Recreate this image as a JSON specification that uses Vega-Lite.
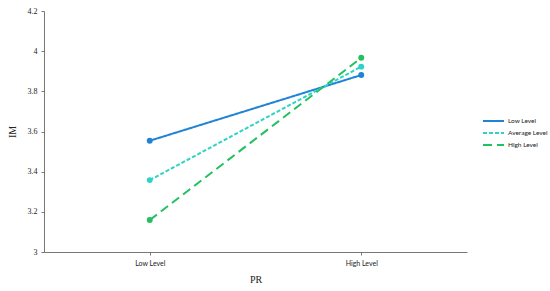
{
  "$schema": "https://vega.github.io/schema/vega-lite/v6.json",
  "width": 423,
  "height": 241,
  "autosize": "none",
  "padding": {"left": 44, "top": 11, "right": 83, "bottom": 39},
  "background": "white",
  "config": {"view": {"stroke": null}},
  "data": {"values": [
    {"PR": "Low Level", "level": "Low Level", "IM": 3.554},
    {"PR": "High Level", "level": "Low Level", "IM": 3.881},
    {"PR": "Low Level", "level": "Average Level", "IM": 3.358},
    {"PR": "High Level", "level": "Average Level", "IM": 3.923},
    {"PR": "Low Level", "level": "High Level", "IM": 3.159},
    {"PR": "High Level", "level": "High Level", "IM": 3.967}
  ]},
  "encoding": {
    "x": {"field": "PR", "type": "nominal", "sort": ["Low Level", "High Level"],
      "scale": {"type": "point", "padding": 0.5},
      "axis": {"title": "PR", "labelAngle": 0, "labelFont": "Lato", "labelFontSize": 7, "labelColor": "#222",
        "titleFont": "Liberation Serif", "titleFontSize": 10, "titleFontWeight": "normal", "titleColor": "#222", "titlePadding": 8,
        "domainColor": "#777", "tickColor": "#777", "tickSize": 3, "labelPadding": 4, "grid": false}},
    "y": {"field": "IM", "type": "quantitative", "scale": {"domain": [3, 4.2]},
      "axis": {"title": "IM", "values": [3, 3.2, 3.4, 3.6, 3.8, 4, 4.2], "format": "~g", "labelFont": "Liberation Serif", "labelFontSize": 8, "labelColor": "#222",
        "titleFont": "Liberation Serif", "titleFontSize": 10, "titleFontWeight": "normal", "titleColor": "#222", "titlePadding": 10,
        "domainColor": "#777", "tickColor": "#777", "tickSize": 3, "labelPadding": 4, "grid": false}},
    "color": {"field": "level", "type": "nominal",
      "scale": {"domain": ["Low Level", "Average Level", "High Level"], "range": ["#1f83d6", "#2fd3c6", "#22c060"]},
      "legend": {"title": null, "orient": "none", "legendX": 438, "legendY": 104, "symbolType": "stroke", "symbolSize": 441,
        "symbolStrokeWidth": 2, "labelFont": "Lato", "labelFontSize": 6.5, "labelColor": "#222", "rowPadding": 0, "clipHeight": 12, "labelOffset": 3}}
  },
  "layer": [
    {"mark": {"type": "line", "strokeWidth": 2},
      "encoding": {"strokeDash": {"field": "level", "type": "nominal",
        "scale": {"domain": ["Low Level", "Average Level", "High Level"], "range": [[1, 0], [4, 2], [9, 5]]}, "legend": null}}},
    {"mark": {"type": "point", "filled": true, "size": 35, "opacity": 1}, "encoding": {}}
  ]
}
